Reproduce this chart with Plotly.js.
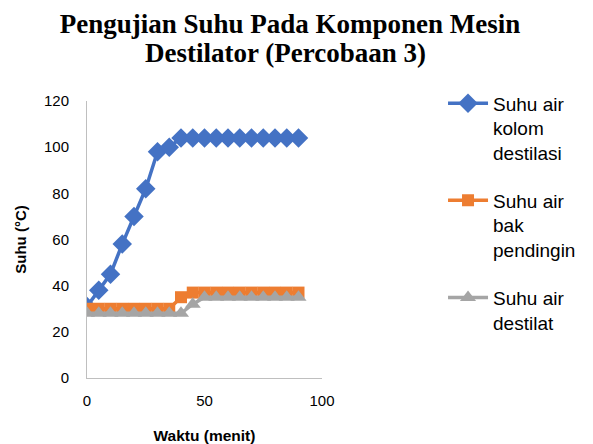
<!DOCTYPE html>
<html>
<head>
<meta charset="utf-8">
<script src="https://cdn.plot.ly/plotly-3.0.1.min.js"></script>
<style>html,body{margin:0;padding:0;background:#fff;}</style>
</head>
<body>
<div id="chart" style="width:593px;height:444px;"></div>
<script>
const waktu = [0,5,10,15,20,25,30,35,40,45,50,55,60,65,70,75,80,85,90];
const kolomDestilasi = [31,38,45,58,70,82,98,100,104,104,104,104,104,104,104,104,104,104,104];
const bakPendingin = [30,30,30,30,30,30,30,30,35,37,37,37,37,37,37,37,37,37,37];
const destilat = [28,28,28,28,28,28,28,28,28,32,35,35,35,35,35,35,35,35,35];
const seriesNames = ["Suhu air<br>kolom<br>destilasi", "Suhu air<br>bak<br>pendingin", "Suhu air<br>destilat"];
const titleLines = ["Pengujian Suhu Pada Komponen Mesin", "Destilator (Percobaan 3)"];
const yTicks = [0,20,40,60,80,100,120];
const xTicks = [0,50,100];

const traces = [
  {x: waktu, y: kolomDestilasi, name: seriesNames[0], legendgroup: 'g1', mode: 'lines+markers',
   line: {color: '#4472C4', width: 3.5}, marker: {symbol: 'diamond', size: 15, color: '#4472C4'}},
  {x: waktu, y: bakPendingin, name: seriesNames[1], legendgroup: 'g2', mode: 'lines+markers',
   line: {color: '#ED7D31', width: 3.5}, marker: {symbol: 'square', size: 12, color: '#ED7D31'}},
  {x: waktu, y: destilat, name: seriesNames[2], legendgroup: 'g3', mode: 'lines+markers',
   line: {color: '#A5A5A5', width: 3.5}, marker: {symbol: 'triangle-up', size: 14, color: '#A5A5A5'}}
];

const titleFont = {family: 'Liberation Serif, Times New Roman, serif', size: 27, color: '#000'};

const layout = {
  width: 593, height: 444,
  margin: {l: 87, r: 266, t: 101, b: 66},
  paper_bgcolor: '#fff', plot_bgcolor: '#fff',
  font: {family: 'Liberation Sans, Arial, sans-serif', color: '#000'},
  title: {text: '<b>' + titleLines[0] + '</b>', font: titleFont,
          x: 0.489, xanchor: 'center', y: 0.946, yanchor: 'middle'},
  annotations: [{text: '<b>' + titleLines[1] + '</b>', font: titleFont, showarrow: false,
          xref: 'paper', yref: 'paper', x: 0.845, xanchor: 'center', y: 1.173, yanchor: 'middle'}],
  xaxis: {range: [0, 100], tickvals: xTicks, ticks: '', showgrid: false, zeroline: false,
          showline: true, linecolor: '#BFBFBF', linewidth: 1, ticklabelstandoff: 9,
          tickfont: {size: 15, color: '#000'},
          title: {text: '<b>Waktu (menit)</b>', font: {size: 15.5, color: '#000'}, standoff: 28}},
  yaxis: {range: [0, 120], tickvals: yTicks, ticks: '', showgrid: false, zeroline: false,
          showline: true, linecolor: '#BFBFBF', linewidth: 1, ticklabelstandoff: 14,
          tickfont: {size: 15, color: '#000'},
          title: {text: '<b>Suhu (°C)</b>', font: {size: 15, color: '#000'}, standoff: 13}},
  showlegend: true,
  legend: {x: 1.515, xanchor: 'left', y: 1.06, yanchor: 'top', valign: 'top',
           font: {size: 19, color: '#000'}, tracegroupgap: 20, itemwidth: 40,
           maxheight: 420, bgcolor: 'rgba(0,0,0,0)'}
};

Plotly.newPlot('chart', traces, layout, {displayModeBar: false, staticPlot: true});
</script>
</body>
</html>
